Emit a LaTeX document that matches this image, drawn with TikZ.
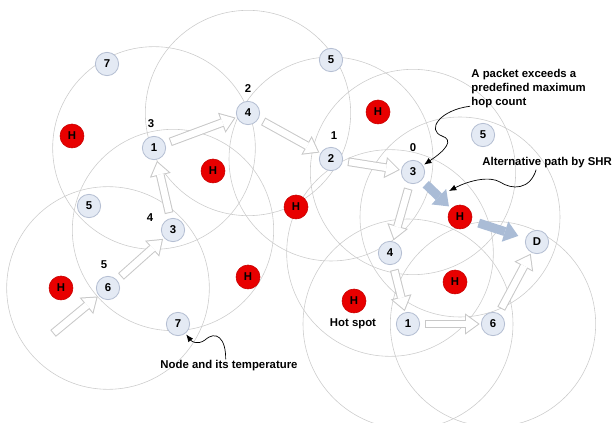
\documentclass[tikz,border=0pt]{standalone}
\usepackage{fontspec}
\setmainfont{Liberation Sans}
\usetikzlibrary{arrows.meta,backgrounds}

\definecolor{rangegray}{RGB}{204,204,204}
\definecolor{nodefill}{RGB}{228,234,244}
\definecolor{nodeline}{RGB}{180,190,210}
\definecolor{hotred}{RGB}{232,0,0}
\definecolor{hotline}{RGB}{200,0,0}
\definecolor{hopgray}{RGB}{200,200,200}
\definecolor{shrblue}{RGB}{170,188,214}

\begin{document}
\begin{tikzpicture}[x=0.3mm, y=-0.3mm,
    every node/.style={font=\fontsize{9.7}{12}\selectfont\bfseries, align=left},
    sensor/.style={circle, draw=nodeline, line width=0.7pt, fill=nodefill, minimum size=7mm, inner sep=0pt, outer sep=0.5mm},
    hot/.style={circle, draw=hotline, line width=0.5pt, fill=hotred, minimum size=7.2mm, inner sep=0pt, outer sep=1mm},
    radiorange/.style={draw=rangegray, line width=0.5pt},
    hop/.style={draw=hopgray, line width=2.6mm, shorten <=1.2mm, -{Triangle[length=4.4mm, width=6.4mm, line width=0pt]},
        postaction={draw=white, line width=2mm, shorten >=0.51mm, shorten <=1.5mm, -{Triangle[length=3.59mm, width=5.22mm, line width=0pt]}}},
    shr/.style={draw=shrblue, line width=2.7mm, -{Triangle[length=4.2mm, width=6.4mm, line width=0pt]}},
    note/.style={draw=black, line width=0.6pt, -{Latex[length=2.2mm, width=1.8mm]}}]
    \useasboundingbox (0,0) rectangle (614,423);

    % sensor nodes
    \node[sensor] (n7a) at (107,64) {7};
    \node[sensor] (n1a) at (154,148) {1};
    \node[sensor] (n4a) at (248,113) {4};
    \node[sensor] (n5a) at (89,206) {5};
    \node[sensor] (n3a) at (173,230) {3};
    \node[sensor] (n6a) at (108,288) {6};
    \node[sensor] (n7b) at (178,324) {7};
    \node[sensor] (n5b) at (331,60) {5};
    \node[sensor] (n2a) at (331,159) {2};
    \node[sensor] (n3b) at (413,172) {3};
    \node[sensor] (n5c) at (483,135) {5};
    \node[sensor] (n4b) at (390,253) {4};
    \node[sensor] (n1b) at (408,324) {1};
    \node[sensor] (n6b) at (493,324) {6};
    \node[sensor] (nd) at (537,242) {D};

    % hot spots
    \node[hot] (h1) at (72,136) {H};
    \node[hot] (h2) at (213,171) {H};
    \node[hot] (h3) at (296,207) {H};
    \node[hot] (h4) at (248,277) {H};
    \node[hot] (h5) at (378,112) {H};
    \node[hot] (h6) at (61,288) {H};
    \node[hot] (hb) at (460,217) {H};
    \node[hot] (h7) at (455,282) {H};
    \node[hot] (h8) at (354,301) {H};

    % hop counts
    \node (c1a) at (151,124) {3};
    \node (c4a) at (248,89) {2};
    \node (c3a) at (150,218) {4};
    \node (c6a) at (104,265) {5};
    \node (c2a) at (334,136) {1};
    \node (c3b) at (413,148) {0};

    % ranges
    \begin{scope}[on background layer]
        \draw[radiorange] (n6a) circle[radius=3.04cm];
        \draw[radiorange] (n3a) circle[radius=3.02cm];
        \draw[radiorange] (n1a) circle[radius=3.04cm];
        \draw[radiorange] (n4a) circle[radius=3.08cm];
        \draw[radiorange] (n2a) circle[radius=3.06cm];
        \draw[radiorange] (n3b) circle[radius=3.08cm];
        \draw[radiorange] (hb) circle[radius=3.0cm];
        \draw[radiorange] (n4b) circle[radius=3.1cm];
        \draw[radiorange] (n1b) circle[radius=3.15cm];
        \draw[radiorange] (n6b) circle[radius=3.08cm];
    \end{scope}

    % greedy path
    \coordinate (src) at (50,336);
    \draw[hop] (src) -- (n6a);
    \draw[hop] (n6a) -- (n3a);
    \draw[hop] (n3a) -- (n1a);
    \draw[hop] (n1a) -- (n4a);
    \draw[hop] (n4a) -- (n2a);
    \draw[hop] (n2a) -- (n3b);
    \draw[hop] (n3b) -- (n4b);
    \draw[hop] (n4b) -- (n1b);
    \draw[hop] (n1b) -- (n6b);
    \draw[hop] (n6b) -- (nd);

    % SHR detour
    \draw[shr, shorten <=1.3mm] (n3b) -- (hb);
    \draw[shr, shorten <=1.3mm, shorten >=1.9mm] (hb) -- (nd);

    % notes
    \node[anchor=west, inner sep=1pt] (pkt) at (470,89) {A packet exceeds a\\predefined maximum\\hop count};
    \node[anchor=west, inner sep=1pt] (alt) at (481,163) {Alternative path by SHR};
    \node[inner sep=1pt] (temp) at (229,366) {Node and its temperature};
    \node[inner sep=1pt] (spot) at (353,324) {Hot spot};
    \coordinate (detour) at (449,191);

    \draw[note] ([yshift=3pt]pkt.south west) .. controls (440,110) and (426,130) .. (442,136) .. controls (454,140) and (446,150) .. (n3b);
    \draw[note] ([xshift=-3.3mm]alt.south) .. controls (530,190) and (512,190) .. (500,182) .. controls (490,176) and (470,180) .. (detour);
    \draw[note] ([xshift=-1mm]temp.north) .. controls (226,338) and (216,330) .. (205,340) .. controls (198,345) and (192,342) .. (n7b);
\end{tikzpicture}
\end{document}
